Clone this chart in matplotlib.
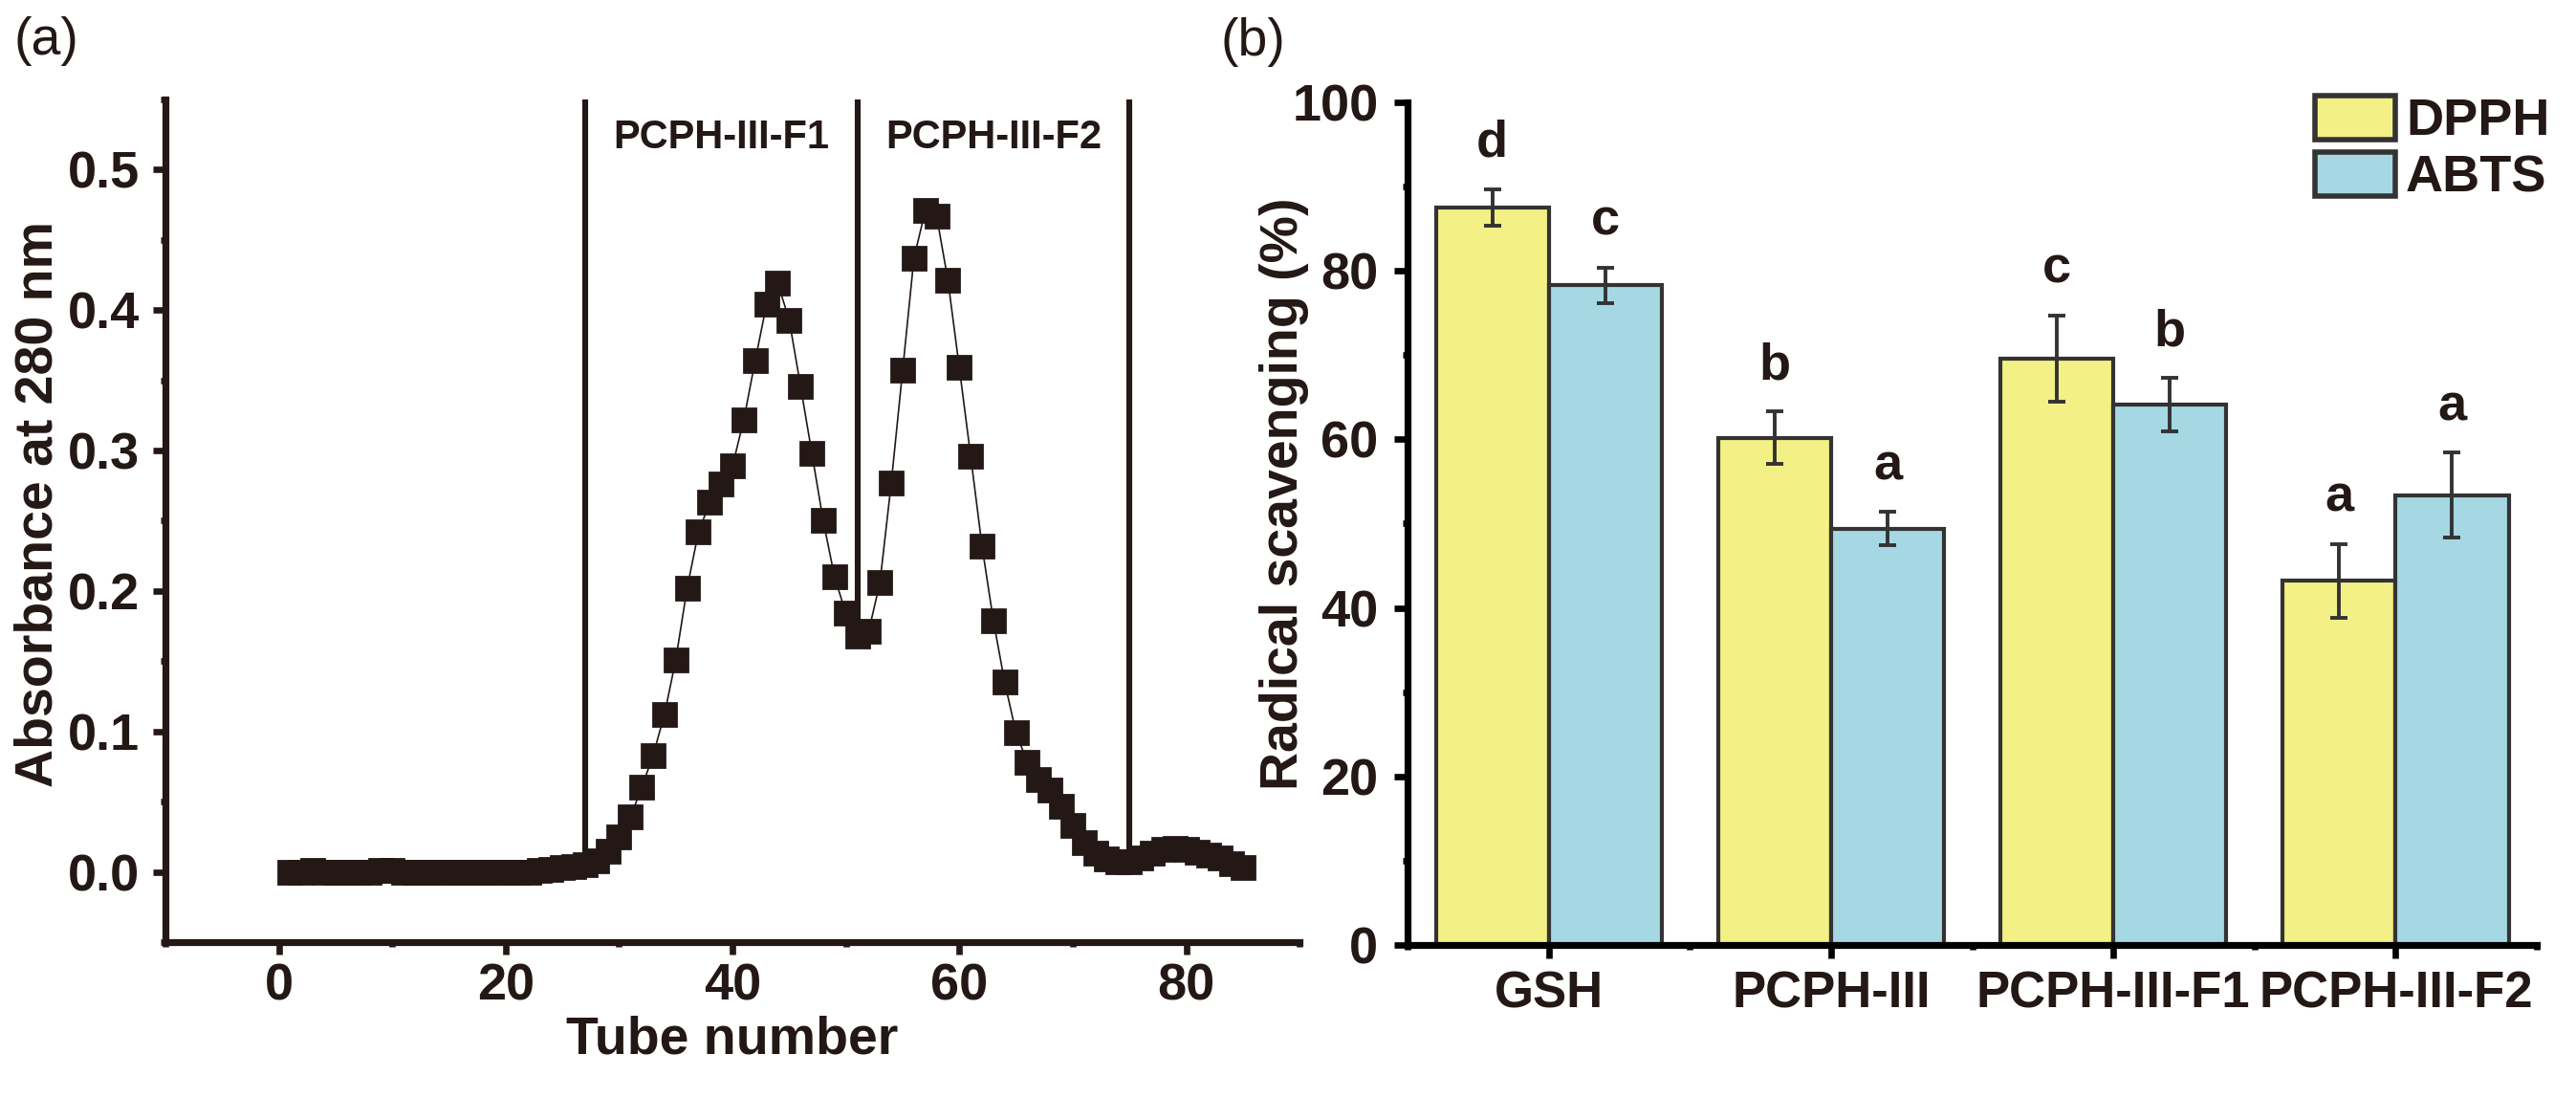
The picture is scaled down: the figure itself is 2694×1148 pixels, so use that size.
import numpy as np
import matplotlib
matplotlib.use("Agg")
import matplotlib.pyplot as plt
from matplotlib.ticker import MultipleLocator

plt.rcParams['font.family'] = ['Liberation Sans', 'DejaVu Sans']
plt.rcParams['font.weight'] = 'bold'
plt.rcParams['axes.labelweight'] = 'bold'

# (a) elution profile
tubes = list(range(1, 86))
absorbance = [
    0.000, 0.000, 0.001, 0.000, 0.000, 0.000, 0.000, 0.000, 0.001, 0.001,
    0.000, 0.000, 0.000, 0.000, 0.000, 0.000, 0.000, 0.000, 0.000, 0.000,
    0.000, 0.000, 0.001, 0.002, 0.003, 0.004, 0.005, 0.008, 0.015, 0.025,
    0.039, 0.060, 0.083, 0.112, 0.151, 0.202, 0.242, 0.263, 0.276, 0.289,
    0.322, 0.364, 0.404, 0.419, 0.393, 0.346, 0.298, 0.250, 0.210, 0.184,
    0.168, 0.171, 0.206, 0.277, 0.357, 0.437, 0.471, 0.467, 0.421, 0.359,
    0.296, 0.232, 0.179, 0.135, 0.099, 0.078, 0.066, 0.058, 0.047, 0.033,
    0.021, 0.013, 0.009, 0.007, 0.007, 0.010, 0.013, 0.016, 0.017, 0.016,
    0.014, 0.012, 0.010, 0.006, 0.003,
]
cut_tubes = [27, 51, 75]
fraction_names = ['PCPH-III-F1', 'PCPH-III-F2']

# (b) radical scavenging
samples = ['GSH', 'PCPH-III', 'PCPH-III-F1', 'PCPH-III-F2']
dpph = [87.5, 60.2, 69.6, 43.2]
dpph_err = [2.2, 3.1, 5.1, 4.4]
dpph_letters = ['d', 'b', 'c', 'a']
abts = [78.3, 49.4, 64.1, 53.4]
abts_err = [2.1, 2.0, 3.2, 5.0]
abts_letters = ['c', 'a', 'b', 'a']

ink = '#231815'
fig = plt.figure(figsize=(13.47, 5.74), dpi=200)

# ---------- panel (a) ----------
ax1 = fig.add_axes([0.0642, 0.142, 0.4403, 0.7674])
ax1.plot(tubes, absorbance, color=ink, lw=0.6, marker='s', ms=8.3, mec=ink, mfc=ink, zorder=3)
top = 0.55
for t in cut_tubes:
    ax1.vlines(t, absorbance[tubes.index(t)], top, color=ink, lw=2.2, zorder=2)
for i, name in enumerate(fraction_names):
    mid = (cut_tubes[i] + cut_tubes[i + 1]) / 2
    ax1.text(mid, 0.5225, name, ha='center', va='center', fontsize=15, color=ink)

ax1.set_xlim(-10, 90)
ax1.set_ylim(-0.05, top)
ax1.xaxis.set_major_locator(MultipleLocator(20))
ax1.xaxis.set_minor_locator(MultipleLocator(10))
ax1.yaxis.set_major_locator(MultipleLocator(0.1))
ax1.yaxis.set_minor_locator(MultipleLocator(0.05))
ax1.yaxis.set_major_formatter(matplotlib.ticker.FormatStrFormatter('%.1f'))
ax1.set_xlabel('Tube number', fontsize=20, color=ink, labelpad=2)
ax1.set_ylabel('Absorbance at 280 nm', fontsize=20, color=ink)
ax1.yaxis.set_label_coords(-0.090, 0.52)
ax1.tick_params(which='major', length=4.7, width=2.4, labelsize=19.5, colors=ink, pad=3)
ax1.tick_params(axis='y', which='major', pad=5)
ax1.tick_params(which='minor', length=1.8, width=2.4, colors=ink)
for s in ['top', 'right']:
    ax1.spines[s].set_visible(False)
for s in ['left', 'bottom']:
    ax1.spines[s].set_linewidth(2.6)
    ax1.spines[s].set_color(ink)

# ---------- panel (b) ----------
ax2 = fig.add_axes([0.5464, 0.1394, 0.4384, 0.7674])
x = np.arange(len(samples))
w = 0.4
yellow = '#F3F086'
blue = '#A5D8E2'
edge = '#333333'
ekw = dict(ecolor=edge, elinewidth=1.4, capsize=3.3, capthick=1.4)
ax2.bar(x - w / 2, dpph, w, color=yellow, edgecolor=edge, lw=1.5, label='DPPH',
        yerr=dpph_err, error_kw=ekw, zorder=2)
ax2.bar(x + w / 2, abts, w, color=blue, edgecolor=edge, lw=1.5, label='ABTS',
        yerr=abts_err, error_kw=ekw, zorder=2)
for xi, v, e, l in zip(x - w / 2, dpph, dpph_err, dpph_letters):
    ax2.text(xi, v + e + 2.6, l, ha='center', va='bottom', fontsize=19.5, color=ink)
for xi, v, e, l in zip(x + w / 2, abts, abts_err, abts_letters):
    ax2.text(xi, v + e + 2.6, l, ha='center', va='bottom', fontsize=19.5, color=ink)

ax2.set_xlim(-0.5, 3.5)
ax2.set_ylim(0, 100)
ax2.set_xticks(x)
ax2.set_xticklabels(samples)
ax2.set_xticks(np.arange(-0.5, 3.6, 1.0), minor=True)
ax2.yaxis.set_major_locator(MultipleLocator(20))
ax2.yaxis.set_minor_locator(MultipleLocator(10))
ax2.set_ylabel('Radical scavenging (%)', fontsize=20, color=ink)
ax2.yaxis.set_label_coords(-0.087, 0.535)
ax2.tick_params(which='major', length=5, width=2.4, labelsize=19, colors='black', labelcolor=ink, pad=4.5)
ax2.tick_params(axis='y', which='major', labelsize=19.5, pad=6)
ax2.tick_params(which='minor', length=1.8, width=2.4, colors='black')
for s in ['top', 'right']:
    ax2.spines[s].set_visible(False)
for s in ['left', 'bottom']:
    ax2.spines[s].set_linewidth(2.6)
    ax2.spines[s].set_color('black')

leg = ax2.legend(loc='upper left', bbox_to_anchor=(0.8036, 1.008), frameon=False,
                 fontsize=19.5, handlelength=1.55, handleheight=0.92,
                 handletextpad=0.2, labelspacing=0.12, borderpad=0, borderaxespad=0)
for h in leg.legend_handles:
    h.set_linewidth(2.0)
for t in leg.get_texts():
    t.set_color(ink)

fig.text(0.0178, 0.9625, '(a)', ha='center', va='center', fontsize=20, fontweight='normal', color=ink)
fig.text(0.4866, 0.9617, '(b)', ha='center', va='center', fontsize=20, fontweight='normal', color=ink)

fig.savefig('out.png', dpi=200, facecolor='white')
